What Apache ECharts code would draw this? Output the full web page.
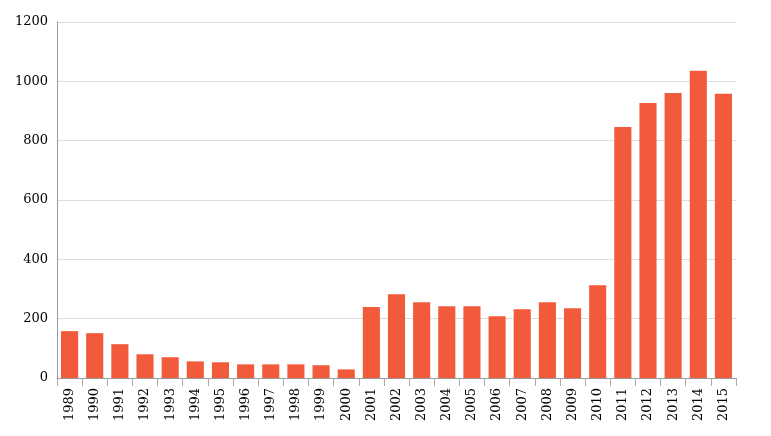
<!DOCTYPE html>
<html><head><meta charset="utf-8">
<script src="https://cdn.jsdelivr.net/npm/echarts@6/dist/echarts.min.js"></script>
<style>html,body{margin:0;padding:0;background:#fff}#c{width:771px;height:436px}</style>
</head><body><div id="c"></div>
<script>
const years = ['1989','1990','1991','1992','1993','1994','1995','1996','1997','1998','1999','2000','2001','2002','2003','2004','2005','2006','2007','2008','2009','2010','2011','2012','2013','2014','2015'];
const values = [158,151,114,80,70,56,53,46,46,46,43,29,239,282,255,242,242,208,232,255,235,313,846,927,961,1036,958];
const yTicks = [0,200,400,600,800,1000,1200];

const chart = echarts.init(document.getElementById('c'), null, {renderer:'canvas'});
chart.setOption({
  animation:false,
  grid:{left:57,right:35,top:22,bottom:58,containLabel:false},
  xAxis:{
    type:'category', data:years, boundaryGap:true,
    axisLine:{lineStyle:{color:'#999',width:1}},
    axisTick:{show:true,alignWithLabel:false,length:8,lineStyle:{color:'#aaa'}},
    axisLabel:{rotate:90,color:'#000',fontFamily:'DejaVu Serif',fontSize:13,margin:10,interval:0}
  },
  yAxis:{
    type:'value', min:yTicks[0], max:yTicks[yTicks.length-1], interval:200,
    axisLine:{show:true,lineStyle:{color:'#999',width:1}},
    axisTick:{show:false},
    axisLabel:{color:'#000',fontFamily:'DejaVu Serif',fontSize:13,margin:9,formatter:function(v){return String(v);}},
    splitLine:{lineStyle:{color:'#ddd',width:1}}
  },
  series:[{type:'bar',data:values,barCategoryGap:'32%',itemStyle:{color:'#f15a3a'}}]
});
</script></body></html>
